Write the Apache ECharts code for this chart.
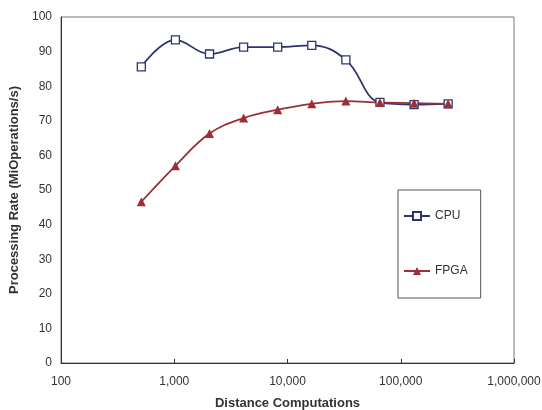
<!DOCTYPE html>
<html>
<head>
<meta charset="utf-8">
<script src="https://cdn.jsdelivr.net/npm/echarts@6/dist/echarts.min.js"></script>
<style>
  html, body { margin: 0; padding: 0; background: #fff; }
  #chart { width: 542px; height: 410px; }
</style>
</head>
<body>
<div id="chart"></div>
<script>
// x: number of distance computations (log axis)
const sizes = [512, 1024, 2048, 4096, 8192, 16384, 32768, 65536, 131072, 262144];
// y: processing rate, MiOperations/s
const cpuRate = [85.6, 93.4, 89.3, 91.3, 91.3, 91.8, 87.6, 75.3, 74.7, 74.9];
const fpgaRate = [46.6, 57.0, 66.3, 70.8, 73.2, 74.9, 75.7, 75.3, 75.1, 74.9];

const font = 'Liberation Sans, Arial, sans-serif';
const textColor = '#333';

const chart = echarts.init(document.getElementById('chart'));

function pairs (ys) {
  return sizes.map((x, i) => [x, ys[i]]);
}

chart.setOption({
  animation: false,
  textStyle: { fontFamily: font },
  grid: {
    left: 61, top: 17, right: 28, bottom: 47,
    containLabel: false,
    outerBoundsMode: 'none',
    show: true, borderColor: '#777', borderWidth: 1
  },
  legend: {
    orient: 'vertical',
    left: 398,
    top: 190,
    padding: [20, 13, 21, 5],
    itemGap: 43,
    itemWidth: 26,
    itemHeight: 10,
    borderColor: '#555',
    borderWidth: 1,
    textStyle: { fontFamily: font, fontSize: 12, color: textColor },
    data: ['CPU', 'FPGA']
  },
  xAxis: {
    type: 'log',
    logBase: 10,
    min: 100,
    max: 1000000,
    name: 'Distance Computations',
    nameLocation: 'middle',
    nameGap: 34,
    nameTextStyle: { fontFamily: font, fontSize: 13, fontWeight: 'bold', color: textColor },
    axisLine: { lineStyle: { color: '#333' } },
    axisTick: { inside: true, length: 4, lineStyle: { color: '#333' } },
    minorTick: { show: false },
    splitLine: { show: false },
    axisLabel: {
      margin: 13,
      fontSize: 12,
      color: textColor,
      formatter: v => Number(v).toLocaleString('en-US')
    }
  },
  yAxis: {
    type: 'value',
    min: 0,
    max: 100,
    interval: 10,
    name: 'Processing Rate (MiOperations/s)',
    nameLocation: 'middle',
    nameGap: 31,
    nameTextStyle: { fontFamily: font, fontSize: 13, fontWeight: 'bold', color: textColor },
    axisLine: { show: true, lineStyle: { color: '#333' } },
    axisTick: { show: false },
    splitLine: { show: false },
    axisLabel: { margin: 9, fontSize: 12, color: textColor }
  },
  series: [
    {
      name: 'CPU',
      type: 'line',
      smooth: 0.4,
      data: pairs(cpuRate),
      symbol: 'rect',
      symbolSize: 8,
      lineStyle: { color: '#2e3470', width: 1.8 },
      itemStyle: { color: '#fff', borderColor: '#2e3470', borderWidth: 1.3 }
    },
    {
      name: 'FPGA',
      type: 'line',
      smooth: 0.4,
      data: pairs(fpgaRate),
      symbol: 'triangle',
      symbolSize: 9,
      lineStyle: { color: '#9c2f33', width: 1.8 },
      itemStyle: { color: '#9c2f33' }
    }
  ]
});
</script>
</body>
</html>
